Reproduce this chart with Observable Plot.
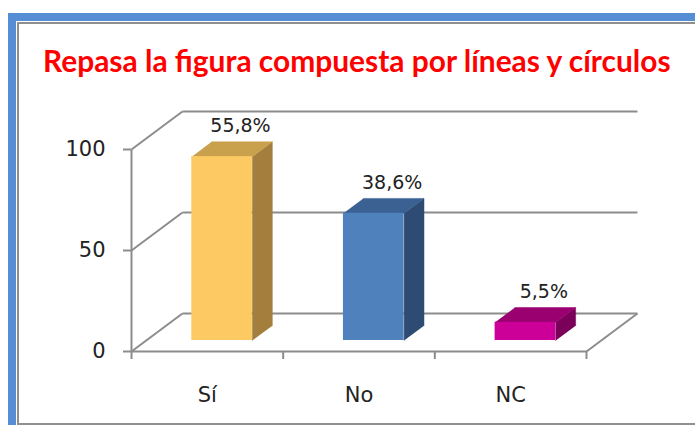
<!DOCTYPE html>
<html>
<head>
<meta charset="utf-8">
<script src="https://cdn.jsdelivr.net/npm/d3@7"></script>
<script src="https://cdn.jsdelivr.net/npm/@observablehq/plot@0.6"></script>
<style>
  html, body { margin: 0; padding: 0; background: #fff; }
  body { width: 695px; height: 425px; overflow: hidden; position: relative; }
  .blue-top { position: absolute; left: 8px; top: 13px; width: 700px; height: 8px; background: #558ED5; }
  .blue-left { position: absolute; left: 8px; top: 13px; width: 8px; height: 420px; background: #558ED5; }
  .inner { position: absolute; left: 17px; top: 22px; width: 700px; height: 403px; box-sizing: border-box;
           border-top: 2px solid #8f8f8f; border-left: 2px solid #8f8f8f; border-bottom: 2px solid #8f8f8f; }
  .title { position: absolute; left: 43px; top: 46px; color: #FF0000; font-family: Lato, "Open Sans", sans-serif;
           font-weight: 700; line-height: 1; white-space: nowrap; }
  #chart { position: absolute; left: 0; top: 0; }
</style>
</head>
<body>
<div class="blue-top"></div>
<div class="blue-left"></div>
<div class="inner"></div>
<div class="title" id="title">Repasa la figura compuesta por líneas y círculos</div>
<div id="chart"></div>
<script>
// ---- data ----
const categories = ["Sí", "No", "NC"];
const counts = [91, 63, 9];
const percentLabels = ["55,8%", "38,6%", "5,5%"];
const yTicks = [0, 50, 100];

// ---- style constants ----
const frontColors = ["#FCC962", "#4F81BD", "#CC0099"];
const topColors = ["#C9A04C", "#3B6192", "#9A006F"];
const sideColors = ["#A37E3C", "#2E4C73", "#7A0059"];
const gridColor = "#8c8c8c";
const textColor = "#222222";
const DX = 0.336, DY = 18.8;   // 3D depth expressed in data units (x categories, y values)
const F1 = 0.29, F2 = 0.68;    // front/back depth fractions of the bars
const BW = 0.40;               // bar width as fraction of a category

// fit title width
(function () {
  const el = document.getElementById("title");
  const c = document.createElement("canvas").getContext("2d");
  c.font = "700 28px Lato";
  const w = c.measureText(el.textContent).width;
  el.style.fontSize = (28 * 630 / w).toFixed(2) + "px";
})();

const idx = categories.map((d, i) => i);
const fronts = idx.map(i => ({
  i,
  x1: i + 0.5 - BW / 2 + F1 * DX,
  x2: i + 0.5 + BW / 2 + F1 * DX,
  y1: F1 * DY,
  y2: counts[i] + F1 * DY
}));
const sides = idx.flatMap(i => {
  const xr = i + 0.5 + BW / 2, v = counts[i];
  return [
    {i, x: xr + F1 * DX, y: F1 * DY},
    {i, x: xr + F1 * DX, y: v + F1 * DY},
    {i, x: xr + F2 * DX, y: v + F2 * DY},
    {i, x: xr + F2 * DX, y: F2 * DY}
  ];
});
const tops = idx.flatMap(i => {
  const xl = i + 0.5 - BW / 2, xr = i + 0.5 + BW / 2, v = counts[i];
  return [
    {i, x: xl + F1 * DX, y: v + F1 * DY},
    {i, x: xr + F1 * DX, y: v + F1 * DY},
    {i, x: xr + F2 * DX, y: v + F2 * DY},
    {i, x: xl + F2 * DX, y: v + F2 * DY}
  ];
});
const n = categories.length;

const chart = Plot.plot({
  width: 695,
  height: 425,
  marginLeft: 131,
  marginRight: 109,
  marginTop: 149,
  marginBottom: 74,
  x: {domain: [0, n]},
  y: {domain: [0, 100]},
  color: {type: "identity"},
  style: {fontFamily: "'DejaVu Sans', Verdana, sans-serif", background: "transparent", color: textColor},
  marks: [
    // back wall gridlines
    Plot.link(yTicks, {x1: DX, x2: n + DX, y1: v => v + DY, y2: v => v + DY, stroke: gridColor, strokeWidth: 2}),
    // side wall diagonals
    Plot.link(yTicks, {x1: 0, x2: DX, y1: v => v, y2: v => v + DY, stroke: gridColor, strokeWidth: 2}),
    // floor front edge and right diagonal
    Plot.link([0], {x1: 0, x2: n, y1: 0, y2: 0, stroke: gridColor, strokeWidth: 2}),
    Plot.link([0], {x1: n, x2: n + DX, y1: 0, y2: DY, stroke: gridColor, strokeWidth: 2}),
    // vertical axis line
    Plot.link([0], {x1: 0, x2: 0, y1: 0, y2: 100, stroke: gridColor, strokeWidth: 2}),
    // bars
    Plot.line(sides, {x: "x", y: "y", z: "i", fill: d => sideColors[d.i], stroke: d => sideColors[d.i], strokeWidth: 0.5}),
    Plot.line(tops, {x: "x", y: "y", z: "i", fill: d => topColors[d.i], stroke: d => topColors[d.i], strokeWidth: 0.5}),
    Plot.rect(fronts, {x1: "x1", x2: "x2", y1: "y1", y2: "y2", fill: d => frontColors[d.i]}),
    // axes
    Plot.axisY({ticks: yTicks, tickSize: 8, tickPadding: 18, stroke: gridColor, strokeWidth: 2, color: textColor, fontSize: 21}),
    Plot.axisX({ticks: [0, 1, 2, 3], tickSize: 8, tickFormat: () => "", stroke: gridColor, strokeWidth: 2}),
    // category labels
    Plot.text(categories, {x: (d, i) => i + 0.5, y: 0, text: d => d, dy: 44, fontSize: 21, fill: textColor}),
    // value labels
    Plot.text(percentLabels, {x: (d, i) => i + 0.5 + F2 * DX - 0.01, y: (d, i) => counts[i] + F2 * DY, text: d => d, dy: -16, fontSize: 19, fill: textColor})
  ]
});
document.getElementById("chart").appendChild(chart);
</script>
</body>
</html>
